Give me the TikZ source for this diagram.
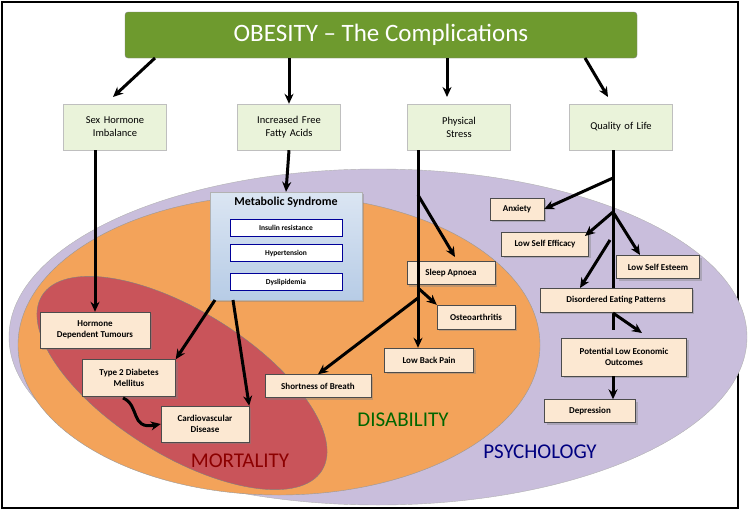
\documentclass[tikz,border=0pt]{standalone}
\usepackage{fontspec}
\setmainfont{Carlito}
\usetikzlibrary{positioning,arrows.meta,shadows}
\definecolor{titlegreen}{HTML}{6E9A2E}
\definecolor{levelgreen}{HTML}{EAF3DA}
\definecolor{boxbeige}{HTML}{FCE8D2}
\definecolor{psyfill}{HTML}{C9BEDC}
\definecolor{disfill}{HTML}{F3A35A}
\definecolor{mortfill}{HTML}{C9545A}
\definecolor{metblue}{HTML}{B7CCE6}

\begin{document}
\begin{tikzpicture}[x=1pt,y=-1pt,
    thick arrow/.style={-{Stealth[length=10pt,width=9pt]}, line width=3pt},
    effect/.style={draw=black!70, fill=boxbeige, font=\bfseries\fontsize{9}{11}\selectfont,
      align=center, inner sep=2pt, drop shadow={opacity=0.4}},
    cause/.style={draw=black!25, fill=levelgreen, font=\fontsize{10.5}{13}\selectfont,
      align=center, minimum width=100pt, minimum height=46pt, text width=96pt},
    subbox/.style={draw=blue!60!black, fill=white, line width=1pt, minimum width=112pt,
      minimum height=17pt, font=\bfseries\fontsize{7.5}{9}\selectfont},
    area/.style={font=\fontsize{21}{24}\selectfont}
]
  \useasboundingbox (0,0) rectangle (750,522);
  \draw[line width=1.5pt] (2,2) rectangle (738,508);

  % overlapping areas
  \draw[black!30, fill=psyfill] (378,337) ellipse [x radius=369, y radius=168];
  \draw[black!40, fill=disfill] (279,345) ellipse [x radius=261, y radius=150];
  \draw[black!50, fill=mortfill] (182,383) ellipse [x radius=165, y radius=72, rotate=-32];
  \node[area, text=green!40!black] (disability) at (403,420) {DISABILITY};
  \node[area, text=red!55!black] (mortality) at (240,461) {MORTALITY};
  \node[area, text=blue!50!black] (psychology) at (540,452) {PSYCHOLOGY};

  % top row
  \node[draw=black!50, fill=titlegreen, rounded corners=3pt, minimum width=512pt, minimum height=46pt,
    text=white, font=\fontsize{25}{28}\selectfont] (obesity) at (381,35) {OBESITY -- The Complications};
  \node[cause] (sex) at (115,127) {Sex Hormone\\Imbalance};
  \node[cause] (ffa) at (289,127) {Increased Free\\Fatty Acids};
  \node[cause] (stress) at (459,127) {Physical\\Stress};
  \node[cause] (life) at (621,127) {Quality of Life};

  \draw[thick arrow] (155,58) -- (113,97);
  \draw[thick arrow] (obesity.south -| ffa) -- (ffa.north);
  \draw[thick arrow] (447,58) -- (447,97);
  \draw[thick arrow] (585,58) -- (608,97);

  % metabolic syndrome
  \node[draw=black!30, top color=metblue!50, bottom color=metblue, minimum width=152pt,
    minimum height=108pt, drop shadow={opacity=0.4}] (metabolic) at (286,246) {};
  \node[font=\bfseries\fontsize{12}{14}\selectfont, below=2pt of metabolic.north] (metlabel) {Metabolic Syndrome};
  \node[subbox] (insulin) at (286,228) {Insulin resistance};
  \node[subbox] (hyper) at (286,253) {Hypertension};
  \node[subbox] (dys) at (286,282) {Dyslipidemia};
  \draw[thick arrow] (ffa.south) -- (metabolic.north);

  % trunks drawn beneath the boxes
  \coordinate (stresstop) at (418,150);
  \coordinate (lifetop) at (613,150);
  \coordinate (spbranch) at (418,195);
  \coordinate (oabranch) at (418,288);
  \coordinate (sobbranch) at (418,298);
  \coordinate (anxbranch) at (613,178);
  \coordinate (selfbranch) at (613,212);
  \coordinate (eatbranch) at (610,240);
  \coordinate (econbranch) at (613,313);

  \node[effect, minimum width=110pt, minimum height=36pt] (tumours) at (95,330) {Hormone\\Dependent Tumours};
  \node[effect, minimum width=93pt, minimum height=37pt] (diabetes) at (129,378) {Type 2 Diabetes\\Mellitus};
  \node[effect, minimum width=88pt, minimum height=36pt] (cardio) at (205,424) {Cardiovascular\\Disease};
  \node[effect, minimum width=106pt, minimum height=23pt] (breath) at (318,386) {Shortness of Breath};
  \node[effect, minimum width=88pt, minimum height=23pt] (apnoea) at (451,273) {Sleep Apnoea};
  \node[effect, minimum width=78pt, minimum height=24pt] (osteo) at (476,317) {Osteoarthritis};
  \node[effect, minimum width=89pt, minimum height=24pt] (back) at (429,360) {Low Back Pain};

  \draw[thick arrow] (stresstop) -- (back.north -| stresstop);
  \draw[thick arrow] (spbranch) -- (455,257);
  \draw[thick arrow] (oabranch) -- (osteo.north west);
  \draw[thick arrow] (sobbranch) -- (breath.north);

  \draw[thick arrow] (sex.south -| tumours) -- (tumours.north);
  \draw[thick arrow] (215,300) -- (diabetes.north east);
  \draw[thick arrow] (233,300) -- (cardio.north east);
  \draw[thick arrow] (123,398) .. controls (140,405) and (130,430) .. (cardio.west);

  \node[effect, minimum width=54pt, minimum height=22pt] (anxiety) at (517,209) {Anxiety};
  \node[effect, minimum width=87pt, minimum height=24pt] (efficacy) at (545,244) {Low Self Efficacy};
  \node[effect, minimum width=83pt, minimum height=23pt] (esteem) at (658,267) {Low Self Esteem};
  \draw[line width=3pt] (lifetop) -- (613,330);
  \node[effect, minimum width=152pt, minimum height=24pt] (eating) at (616,300) {Disordered Eating Patterns};
  \node[effect, minimum width=125pt, minimum height=38pt] (economic) at (624,357) {Potential Low Economic\\Outcomes};
  \node[effect, minimum width=91pt, minimum height=23pt] (depression) at (590,411) {Depression};

  \draw[thick arrow] (economic.south -| lifetop) -- (depression.north -| lifetop);
  \draw[thick arrow] (anxbranch) -- (anxiety.east);
  \draw[thick arrow] (selfbranch) -- (585,236);
  \draw[thick arrow] (selfbranch) -- (640,255);
  \draw[thick arrow] (eatbranch) -- (580,288);
  \draw[thick arrow] (econbranch) -- (642,333);
\end{tikzpicture}
\end{document}
